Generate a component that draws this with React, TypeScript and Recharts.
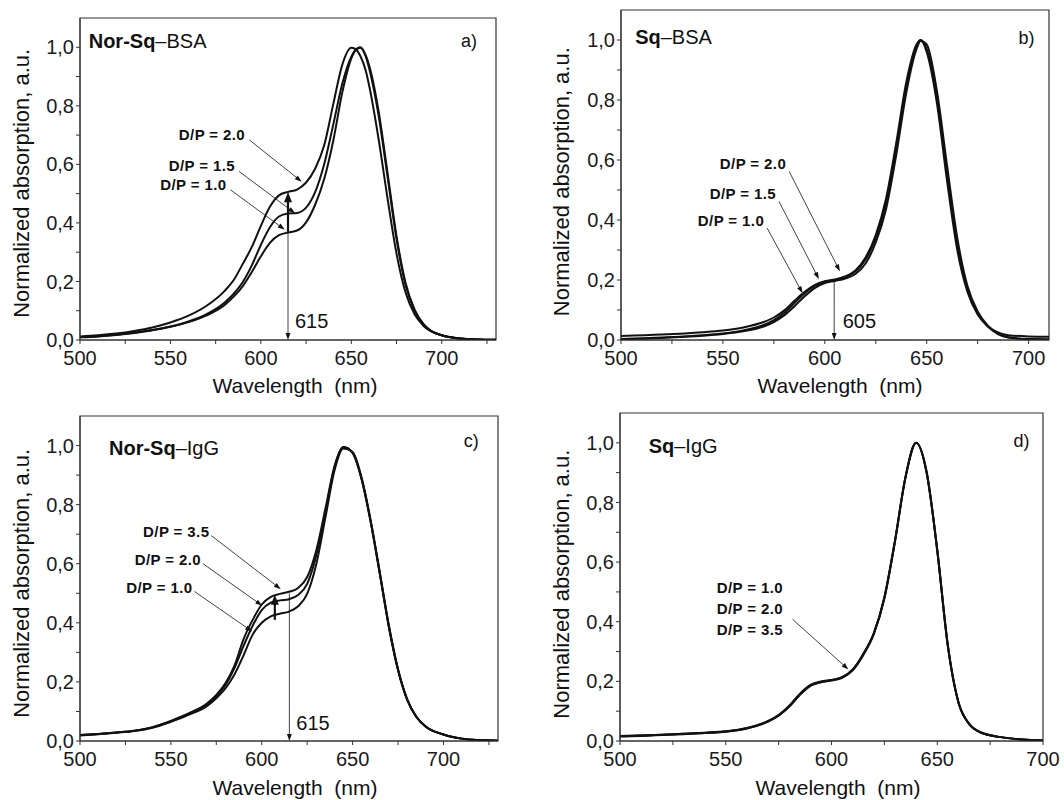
import React from 'react';
import { LineChart, Line, XAxis, YAxis, ReferenceLine, ReferenceArea } from 'recharts';

const FONT = '"Liberation Sans", Arial, Helvetica, sans-serif';
const INK = '#111';
const FRAME = '#333';

// a) Nor-Sq–BSA
const wlA = [500, 510, 520, 530, 540, 550, 560, 570, 580, 585, 590, 595, 600, 605, 610, 615, 620, 625, 630, 635, 640, 645, 650, 652, 655, 658, 660, 665, 670, 675, 680, 685, 690, 700, 710, 720, 730];
const norSqBsa10 = [0.009, 0.012, 0.017, 0.024, 0.033, 0.045, 0.061, 0.084, 0.12, 0.148, 0.184, 0.232, 0.286, 0.332, 0.358, 0.367, 0.374, 0.402, 0.462, 0.55, 0.68, 0.845, 0.962, 0.988, 1.0, 0.972, 0.935, 0.785, 0.572, 0.355, 0.195, 0.104, 0.054, 0.016, 0.005, 0.002, 0.001];
const norSqBsa15 = [0.01, 0.013, 0.018, 0.025, 0.034, 0.046, 0.063, 0.088, 0.128, 0.158, 0.198, 0.255, 0.325, 0.385, 0.422, 0.432, 0.434, 0.452, 0.505, 0.6, 0.735, 0.875, 0.968, 0.988, 0.998, 0.968, 0.925, 0.77, 0.56, 0.345, 0.188, 0.1, 0.052, 0.016, 0.005, 0.002, 0.001];
const norSqBsa20 = [0.012, 0.016, 0.022, 0.031, 0.043, 0.06, 0.083, 0.117, 0.168, 0.205, 0.26, 0.318, 0.39, 0.455, 0.494, 0.506, 0.514, 0.538, 0.585, 0.665, 0.805, 0.94, 0.998, 0.995, 0.97, 0.92, 0.865, 0.69, 0.485, 0.295, 0.162, 0.088, 0.048, 0.016, 0.006, 0.002, 0.001];

// b) Sq–BSA
const wlB = [500, 520, 540, 550, 560, 570, 575, 580, 585, 590, 595, 600, 605, 610, 615, 620, 625, 630, 635, 640, 645, 647, 650, 655, 660, 665, 670, 675, 680, 685, 690, 700, 710];
const sqBsa10 = [0.013, 0.018, 0.026, 0.032, 0.042, 0.06, 0.075, 0.098, 0.13, 0.16, 0.183, 0.196, 0.202, 0.212, 0.232, 0.275, 0.35, 0.47, 0.655, 0.86, 0.985, 1.0, 0.96, 0.79, 0.53, 0.3, 0.16, 0.085, 0.045, 0.025, 0.016, 0.012, 0.011];
const sqBsa15 = [0.003, 0.008, 0.016, 0.022, 0.032, 0.05, 0.066, 0.09, 0.122, 0.155, 0.18, 0.194, 0.2, 0.21, 0.228, 0.268, 0.34, 0.455, 0.64, 0.845, 0.98, 1.0, 0.97, 0.81, 0.56, 0.32, 0.17, 0.09, 0.045, 0.02, 0.008, 0.003, 0.002];
const sqBsa20 = [0.002, 0.007, 0.014, 0.02, 0.029, 0.045, 0.06, 0.082, 0.112, 0.145, 0.173, 0.19, 0.197, 0.205, 0.22, 0.255, 0.325, 0.435, 0.615, 0.825, 0.97, 0.997, 0.985, 0.83, 0.58, 0.34, 0.18, 0.095, 0.048, 0.022, 0.009, 0.003, 0.002];

// c) Nor-Sq–IgG
const wlC = [500, 510, 520, 530, 540, 550, 560, 570, 575, 580, 585, 590, 595, 600, 605, 610, 615, 620, 625, 630, 635, 640, 645, 650, 655, 660, 665, 670, 675, 680, 685, 690, 700, 710, 720, 730];
const norSqIgg10 = [0.019, 0.023, 0.028, 0.034, 0.045, 0.065, 0.089, 0.119, 0.145, 0.178, 0.225, 0.29, 0.36, 0.4, 0.422, 0.431, 0.438, 0.456, 0.498, 0.598, 0.755, 0.915, 0.99, 0.978, 0.89, 0.745, 0.57, 0.39, 0.243, 0.142, 0.083, 0.05, 0.022, 0.008, 0.003, 0.001];
const norSqIgg20 = [0.02, 0.024, 0.029, 0.035, 0.047, 0.067, 0.092, 0.125, 0.152, 0.19, 0.247, 0.322, 0.39, 0.443, 0.468, 0.476, 0.48, 0.494, 0.532, 0.628, 0.775, 0.925, 0.995, 0.975, 0.885, 0.74, 0.565, 0.385, 0.24, 0.14, 0.082, 0.05, 0.022, 0.008, 0.003, 0.001];
const norSqIgg35 = [0.02, 0.024, 0.029, 0.035, 0.047, 0.068, 0.094, 0.128, 0.156, 0.195, 0.255, 0.345, 0.41, 0.462, 0.488, 0.498, 0.505, 0.518, 0.555, 0.645, 0.785, 0.93, 0.995, 0.975, 0.885, 0.74, 0.565, 0.385, 0.24, 0.14, 0.082, 0.05, 0.022, 0.008, 0.003, 0.001];

// d) Sq–IgG
const wlD = [500, 510, 520, 530, 540, 550, 560, 570, 575, 580, 585, 590, 595, 600, 605, 610, 615, 620, 625, 630, 635, 640, 645, 650, 655, 660, 665, 670, 680, 690, 700];
const sqIgg10 = [0.016, 0.018, 0.021, 0.024, 0.027, 0.032, 0.043, 0.066, 0.086, 0.116, 0.156, 0.186, 0.198, 0.204, 0.213, 0.238, 0.29, 0.36, 0.48, 0.67, 0.885, 1.0, 0.9, 0.64, 0.32, 0.13, 0.058, 0.03, 0.013, 0.005, 0.002];
const sqIgg20 = [0.017, 0.019, 0.021, 0.024, 0.028, 0.033, 0.044, 0.067, 0.087, 0.118, 0.158, 0.188, 0.2, 0.205, 0.214, 0.24, 0.292, 0.362, 0.482, 0.672, 0.886, 1.0, 0.898, 0.638, 0.318, 0.129, 0.057, 0.03, 0.013, 0.005, 0.002];
const sqIgg35 = [0.015, 0.017, 0.02, 0.023, 0.027, 0.031, 0.042, 0.065, 0.085, 0.115, 0.154, 0.185, 0.197, 0.203, 0.212, 0.237, 0.288, 0.358, 0.478, 0.668, 0.884, 1.0, 0.902, 0.642, 0.322, 0.131, 0.059, 0.031, 0.013, 0.005, 0.002];

const ticks730 = [500, 525, 550, 575, 600, 625, 650, 675, 700, 725];
const ticks700 = [500, 525, 550, 575, 600, 625, 650, 675, 700];
const yTicks = [0, 0.1, 0.2, 0.3, 0.4, 0.5, 0.6, 0.7, 0.8, 0.9, 1.0];

type Label = { text: string; at: 'start' | 'end'; dx: number; dy: number; num?: boolean };
type Arrow = { from: [number, number]; to: [number, number]; bold?: boolean; labels?: Label[] };

const dp = (text: string, dx = -4, dy = 0): Label => ({ text, at: 'start', dx, dy });

const arrowsA: Arrow[] = [
  { from: [593.5, 0.684], to: [622.6, 0.541], labels: [dp('D/P = 2.0')] },
  { from: [587.9, 0.576], to: [618.9, 0.433], labels: [dp('D/P = 1.5')] },
  { from: [583.2, 0.513], to: [613.2, 0.377], labels: [dp('D/P = 1.0')] },
  { from: [615, 0.37], to: [615, 0.505], bold: true },
  { from: [615, 0.505], to: [615, 0], labels: [{ text: '615', at: 'end', dx: 7, dy: -12, num: true }] },
];
const arrowsB: Arrow[] = [
  { from: [582.5, 0.562], to: [607.4, 0.229], labels: [dp('D/P = 2.0', -3, -2)] },
  { from: [577.5, 0.462], to: [597.1, 0.203], labels: [dp('D/P = 1.5', -3, -2)] },
  { from: [571.7, 0.373], to: [589.1, 0.156], labels: [dp('D/P = 1.0', -3, -2)] },
  { from: [604.6, 0.2], to: [604.6, 0], labels: [{ text: '605', at: 'end', dx: 8.5, dy: -12, num: true }] },
];
const arrowsC: Arrow[] = [
  { from: [572.3, 0.695], to: [610.5, 0.514], labels: [dp('D/P = 3.5', -2, 1)] },
  { from: [567.7, 0.6], to: [600.3, 0.458], labels: [dp('D/P = 2.0', -2, 1)] },
  { from: [563, 0.506], to: [594.7, 0.371], labels: [dp('D/P = 1.0', -2, 1)] },
  { from: [607.2, 0.41], to: [607.2, 0.495], bold: true },
  { from: [615.2, 0.5], to: [615.2, 0], labels: [{ text: '615', at: 'end', dx: 7, dy: -11, num: true }] },
];
const arrowsD: Arrow[] = [
  {
    from: [581.6, 0.408],
    to: [608, 0.24],
    labels: [dp('D/P = 1.0', -9.5, -26), dp('D/P = 2.0', -9.5, -5.3), dp('D/P = 3.5', -9.5, 15.3)],
  },
];

const pts = (wl: number[], v: number[]) => wl.map((w, i) => ({ w, v: v[i] }));

function arrowShape(a: Arrow) {
  return (p: any) => {
    const { x1, y1, x2, y2 } = p;
    const dx = x2 - x1;
    const dy = y2 - y1;
    const len = Math.hypot(dx, dy) || 1;
    const ux = dx / len;
    const uy = dy / len;
    const hl = a.bold ? 10 : 7;
    const hw = a.bold ? 4 : 2.4;
    const bx = x2 - ux * hl;
    const by = y2 - uy * hl;
    const head = `${x2},${y2} ${bx - uy * hw},${by + ux * hw} ${bx + uy * hw},${by - ux * hw}`;
    return (
      <g>
        <line x1={x1} y1={y1} x2={bx + ux} y2={by + uy} stroke={INK} strokeWidth={a.bold ? 2.2 : 0.8} />
        <polygon points={head} fill={INK} />
        {(a.labels || []).map((l, i) => {
          const ox = l.at === 'start' ? x1 : x2;
          const oy = l.at === 'start' ? y1 : y2;
          return l.num ? (
            <text key={i} x={ox + l.dx} y={oy + l.dy} fontFamily={FONT} fontSize={20} fill={INK}>
              {l.text}
            </text>
          ) : (
            <text key={i} x={ox + l.dx} y={oy + l.dy} textAnchor="end" fontFamily={FONT} fontSize={15}
              fontWeight={700} letterSpacing={0.4} fill={INK}>
              {l.text}
            </text>
          );
        })}
      </g>
    );
  };
}

type PanelCfg = {
  box: [number, number];
  plot: [number, number, number, number];
  xMax: number;
  xTicks: number[];
  wl: number[];
  series: number[][];
  arrows: Arrow[];
  title: [string, string];
  titlePos: [number, number];
  letter: string;
  letterPos: [number, number];
  yLabel: [number, number];
  xLabel: [number, number];
};

const panels: PanelCfg[] = [
  {
    box: [0, 0], plot: [80, 18, 496, 340], xMax: 730, xTicks: ticks730, wl: wlA,
    series: [norSqBsa10, norSqBsa15, norSqBsa20], arrows: arrowsA,
    title: ['Nor-Sq', '–BSA'], titlePos: [88.7, 47.7], letter: 'a)', letterPos: [477, 46.5],
    yLabel: [29, 183.3], xLabel: [295, 393],
  },
  {
    box: [532, 0], plot: [621, 10, 1049, 340], xMax: 710, xTicks: ticks700, wl: wlB,
    series: [sqBsa10, sqBsa15, sqBsa20], arrows: arrowsB,
    title: ['Sq', '–BSA'], titlePos: [635.2, 44.3], letter: 'b)', letterPos: [1034.5, 44],
    yLabel: [569, 181.7], xLabel: [840, 393],
  },
  {
    box: [0, 400], plot: [80, 416, 498, 741], xMax: 730, xTicks: ticks730, wl: wlC,
    series: [norSqIgg10, norSqIgg20, norSqIgg35], arrows: arrowsC,
    title: ['Nor-Sq', '–IgG'], titlePos: [109, 455], letter: 'c)', letterPos: [478.8, 446.7],
    yLabel: [29, 583.3], xLabel: [295, 795],
  },
  {
    box: [532, 400], plot: [620, 413, 1043, 741], xMax: 700, xTicks: ticks700, wl: wlD,
    series: [sqIgg10, sqIgg20, sqIgg35], arrows: arrowsD,
    title: ['Sq', '–IgG'], titlePos: [648.7, 453.3], letter: 'd)', letterPos: [1029.5, 446.7],
    yLabel: [569, 584.2], xLabel: [838, 795],
  },
];

const Y_W = 60;
const X_H = 40;
const QW = 532;
const QH = 400;

const fmtX = (v: number) => (v % 50 === 0 ? String(v) : '');
const fmtY = (v: number) => (Math.round(v * 10) % 2 === 0 ? v.toFixed(1).replace('.', ',') : '');

function Panel({ cfg }: { cfg: PanelCfg }) {
  const [bx, by] = cfg.box;
  const [l, t, r, b] = cfg.plot;
  const margin = { top: t - by, left: l - bx - Y_W, right: bx + QW - r, bottom: by + QH - b - X_H };
  const tick = { fontSize: 20, fill: '#1a1a1a', fontFamily: FONT };
  return (
    <div style={{ position: 'absolute', left: bx, top: by }}>
      <LineChart width={QW} height={QH} margin={margin}>
        <XAxis dataKey="w" type="number" domain={[500, cfg.xMax]} ticks={cfg.xTicks} interval={0}
          tickFormatter={fmtX} tick={tick} tickSize={4} tickMargin={7} height={X_H}
          stroke={FRAME} allowDataOverflow />
        <YAxis type="number" domain={[0, 1.1]} ticks={yTicks} interval={0} tickFormatter={fmtY}
          tick={tick} tickSize={4} tickMargin={2} width={Y_W} stroke={FRAME} allowDataOverflow />
        <ReferenceArea x1={500} x2={cfg.xMax} y1={0} y2={1.1} fill="none" stroke={FRAME} strokeWidth={1.2} />
        {cfg.series.map((s, i) => (
          <Line key={i} data={pts(cfg.wl, s)} dataKey="v" type="monotone" stroke={INK} strokeWidth={2}
            dot={false} activeDot={false} isAnimationActive={false} />
        ))}
        {cfg.arrows.map((a, i) => (
          <ReferenceLine key={'ar' + i} segment={[{ x: a.from[0], y: a.from[1] }, { x: a.to[0], y: a.to[1] }]}
            shape={arrowShape(a)} />
        ))}
      </LineChart>
    </div>
  );
}

export default function App() {
  return (
    <div style={{ position: 'absolute', left: 0, top: 0, width: 1064, height: 800, background: '#fff', fontFamily: FONT }}>
      {panels.map((p, i) => (
        <Panel key={i} cfg={p} />
      ))}
      <svg width={1064} height={800} style={{ position: 'absolute', left: 0, top: 0, pointerEvents: 'none' }}>
        {panels.map((p, i) => (
          <g key={i} fontFamily={FONT} fill={INK}>
            <text x={p.titlePos[0]} y={p.titlePos[1]} fontSize={20}>
              <tspan fontWeight={700}>{p.title[0]}</tspan>
              <tspan>{p.title[1]}</tspan>
            </text>
            <text x={p.letterPos[0]} y={p.letterPos[1]} fontSize={18} textAnchor="end">
              {p.letter}
            </text>
            <text x={p.xLabel[0]} y={p.xLabel[1]} fontSize={21} textAnchor="middle">
              {'Wavelength\u00a0 (nm)'}
            </text>
            <text x={p.yLabel[0]} y={p.yLabel[1]} fontSize={22} textAnchor="middle"
              transform={`rotate(-90 ${p.yLabel[0]} ${p.yLabel[1]})`}>
              Normalized absorption, a.u.
            </text>
          </g>
        ))}
      </svg>
    </div>
  );
}
